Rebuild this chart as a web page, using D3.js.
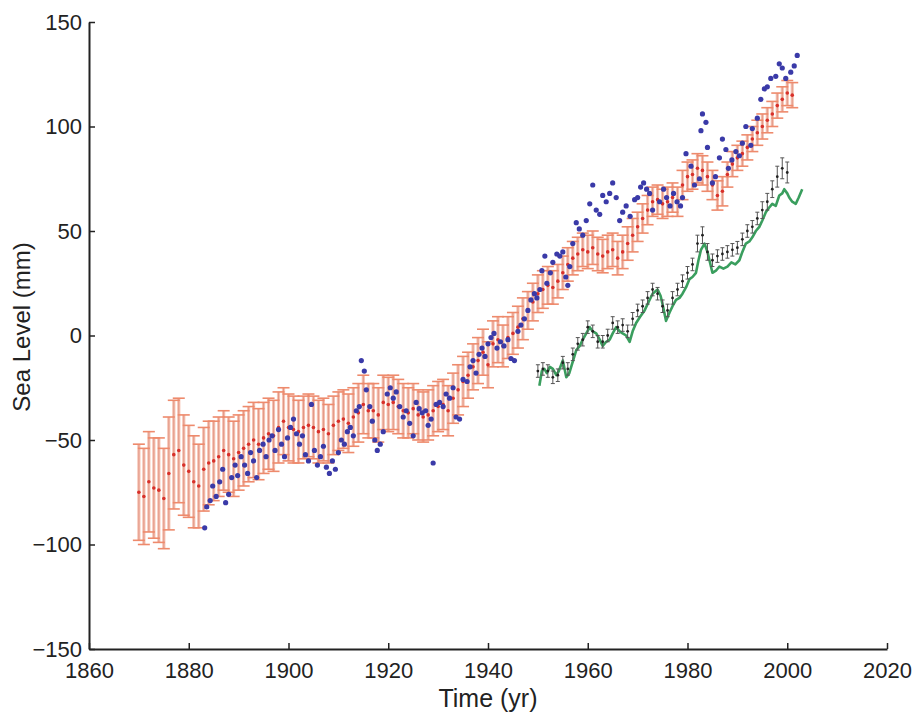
<!DOCTYPE html>
<html>
<head>
<meta charset="utf-8">
<script src="https://cdn.jsdelivr.net/npm/d3@7"></script>
<style>
  body { margin: 0; background: #fff; }
  text { font-family: "Liberation Sans", Arial, Helvetica, sans-serif; fill: #222; }
</style>
</head>
<body>
<div id="chart"></div>
<script>
var width = 912
var height = 715

// reconstructed sea level (red), annual, with error
var redStart = 1870
var redVals = [
  -75, -77, -70, -73, -74, -78, -66, -57, -55, -62,
  -65, -70, -72, -64, -61, -60, -58, -55, -57, -59,
  -56, -54, -52, -50, -52, -49, -47, -48, -44, -41,
  -44, -45, -46, -44, -43, -44, -46, -45, -47, -43,
  -41, -40, -42, -39, -37, -33, -36, -36, -38, -32,
  -33, -32, -34, -36, -37, -35, -38, -39, -38, -36,
  -34, -33, -36, -30, -26, -22, -19, -15, -12, -8,
  -14, -4, -2, -5, -1, 1, 4, 8, 12, 16,
  20, 22, 24, 23, 26, 30, 34, 37, 39, 41,
  40, 42, 39, 38, 40, 41, 37, 40, 44, 48,
  52, 56, 60, 64, 65, 63, 64, 66, 64, 72,
  76, 77, 80, 79, 76, 72, 67, 69, 77, 82,
  85, 87, 90, 94, 97, 100, 103, 106, 110, 113,
  116, 115
]
var redErr = [
  23, 23, 24, 24, 25, 24, 27, 26, 25, 24,
  22, 22, 20, 20, 20, 19, 19, 19, 18, 18,
  18, 18, 18, 18, 17, 17, 17, 17, 17, 16,
  16, 16, 15, 15, 15, 15, 15, 15, 14, 14,
  14, 14, 14, 14, 14, 14, 13, 13, 13, 13,
  13, 13, 13, 13, 12, 12, 12, 12, 12, 12,
  12, 12, 12, 12, 12, 12, 11, 11, 11, 11,
  11, 11, 11, 10, 10, 10, 10, 10, 9, 9,
  9, 9, 9, 8, 8, 8, 8, 8, 8, 8,
  8, 8, 8, 8, 8, 8, 8, 8, 8, 8,
  7, 7, 7, 7, 7, 7, 7, 7, 7, 7,
  7, 7, 7, 7, 7, 7, 7, 7, 6, 6,
  6, 6, 6, 6, 6, 6, 6, 6, 6, 6,
  6, 6
]

// tide gauge points (blue)
var blueYears = [
  1883.2, 1883.6, 1884.3, 1884.8, 1885.5, 1886.2, 1886.8, 1887.4, 1888.0, 1888.6,
  1889.3, 1889.8, 1890.5, 1891.2, 1891.8, 1892.4, 1893.0, 1893.6, 1894.2, 1894.9,
  1895.5, 1896.1, 1896.7, 1897.3, 1898.0, 1898.6, 1899.2, 1899.8, 1900.4, 1901.0,
  1901.6, 1902.2, 1902.8, 1903.4, 1904.0, 1904.6, 1905.2, 1905.8, 1906.4, 1907.0,
  1907.6, 1908.2, 1908.8, 1909.4, 1910.0, 1910.6, 1911.2, 1911.8, 1912.4, 1913.0,
  1913.6, 1914.2, 1914.6, 1915.2, 1915.6, 1916.3, 1916.8, 1917.3, 1917.8, 1918.4,
  1919.0, 1919.8, 1920.4, 1921.0, 1921.6, 1922.3, 1923.0, 1923.6, 1924.3, 1925.0,
  1925.6, 1926.2, 1926.8, 1927.5, 1928.0, 1928.6, 1929.0, 1929.6, 1930.3, 1931.0,
  1931.6, 1932.3, 1933.0, 1933.6, 1934.3, 1935.0, 1935.8, 1936.4, 1937.0, 1937.6,
  1938.2, 1938.8, 1939.4, 1940.0, 1940.6, 1941.2, 1941.8, 1942.5, 1943.2, 1944.0,
  1944.6, 1945.3, 1946.0, 1946.6, 1947.3, 1948.0, 1948.6, 1949.3, 1949.8, 1950.4,
  1950.8, 1951.4, 1951.8, 1952.5, 1953.0, 1953.8, 1954.4, 1955.0, 1955.6, 1956.0,
  1956.4, 1957.0, 1957.7, 1958.3, 1959.0, 1959.7, 1960.4, 1961.0, 1961.7, 1962.4,
  1963.0, 1963.7, 1964.4, 1965.0, 1965.7, 1966.4, 1967.0, 1967.7, 1968.5, 1969.4,
  1970.0, 1970.6, 1971.2, 1971.8, 1972.4, 1973.0, 1974.4, 1975.2, 1975.8, 1976.5,
  1977.2, 1977.9, 1978.6, 1979.0, 1979.7, 1980.7, 1981.4, 1982.4, 1982.7, 1983.0,
  1983.7, 1984.0, 1985.0, 1985.6, 1986.4, 1987.0, 1987.7, 1988.2, 1988.9, 1989.7,
  1990.4, 1991.0, 1991.7, 1992.7, 1993.0, 1994.0, 1994.7, 1995.4, 1996.0, 1996.7,
  1997.7, 1998.4, 1999.0, 1999.7, 2000.7, 2001.4, 2002.0
]
var blueVals = [
  -92, -82, -79, -72, -77, -70, -64, -80, -76, -68,
  -62, -67, -58, -62, -66, -56, -60, -68, -55, -52,
  -58, -50, -48, -55, -45, -52, -58, -49, -44, -40,
  -47, -52, -48, -57, -60, -33, -55, -62, -58, -53,
  -63, -66, -60, -64, -56, -50, -52, -46, -44, -48,
  -36, -34, -12, -17, -26, -34, -41, -50, -55, -52,
  -46, -28, -25, -30, -27, -34, -39, -36, -42, -48,
  -32, -35, -37, -36, -43, -40, -61, -33, -32, -34,
  -28, -30, -25, -39, -40, -21, -22, -15, -12, -18,
  -9, -6, -10, -4, -1, 1, -6, -3, -5, -2,
  -11, -12, 2, 5, 8, 12, 17, 20, 18, 22,
  31, 38, 25, 30, 35, 39, 38, 40, 28, 24,
  33, 44, 54, 51, 48, 55, 63, 72, 60, 58,
  67, 64, 68, 73, 66, 55, 59, 62, 57, 65,
  66, 71, 73, 70, 68, 60, 64, 70, 66, 62,
  68, 64, 62, 66, 87, 81, 72, 75, 98, 106,
  102, 90, 73, 76, 85, 94, 89, 80, 84, 88,
  86, 92, 100, 91, 99, 104, 113, 118, 119, 123,
  124, 130, 128, 123, 126, 129, 134
]

// altimetry-calibrated series (black), annual with small error
var blackStart = 1950
var blackVals = [
  -17, -16, -17, -20, -19, -13, -16, -9, -4, -2,
  4, 2, -3, -3, 0, 6, 4, 5, 2, 8,
  12, 14, 18, 22, 20, 14, 12, 18, 22, 26,
  30, 34, 44, 48, 40, 36, 38, 39, 40, 41,
  42, 46, 50, 52, 56, 60, 64, 70, 76, 80,
  78
]
var blackErr = [
  3, 3, 3, 3, 3, 3, 3, 3, 3, 3,
  3, 3, 3, 3, 3, 3, 3, 3, 3, 3,
  3, 3, 3, 3, 3, 3, 3, 3, 3, 3,
  3, 3, 4, 4, 4, 3, 3, 3, 3, 3,
  3, 3, 3, 3, 3, 4, 4, 4, 5, 5,
  5
]

// green curve
var greenYears = [
  1950.3, 1950.8, 1951.3, 1951.8, 1952.4, 1953.0, 1953.7, 1954.2, 1955.0, 1955.7,
  1956.3, 1956.8, 1957.7, 1958.4, 1959.0, 1959.7, 1960.4, 1961.0, 1961.7, 1962.4,
  1963.0, 1963.7, 1964.4, 1965.0, 1965.7, 1966.4, 1967.0, 1967.7, 1968.4, 1969.0,
  1969.7, 1970.5, 1971.4, 1972.2, 1973.0, 1974.0, 1974.6, 1975.0, 1975.7, 1976.4,
  1977.0, 1977.7, 1978.4, 1979.0, 1979.7, 1980.4, 1981.0, 1981.7, 1982.2, 1982.7,
  1983.4, 1984.0, 1984.4, 1985.0, 1985.7, 1986.4, 1987.2, 1988.0, 1988.8, 1989.6,
  1990.4, 1991.0, 1991.7, 1992.4, 1993.0, 1993.7, 1994.4, 1995.0, 1995.7, 1996.3,
  1997.0, 1997.7, 1998.4, 1999.0, 1999.4, 2000.0, 2000.4, 2001.0, 2001.7, 2002.3,
  2003.0
]
var greenVals = [
  -24, -17, -16, -18, -15, -16, -19, -17, -12, -20,
  -18, -14, -7, -5, -2, 1, 4, 2, 1, -2,
  -5, -3, -2, 1, 4, 2, 1, 0, -3, 2,
  6, 9, 12, 16, 20, 22, 19, 15, 7, 11,
  14, 17, 18, 20, 23, 27, 28, 30, 36, 41,
  44, 40, 36, 30, 31, 33, 32, 33, 35, 34,
  36, 40, 44, 45, 47, 50, 52, 55, 59, 61,
  63, 62, 67, 68, 70, 68, 66, 64, 63, 66,
  70
]

var xTicks = [1860, 1880, 1900, 1920, 1940, 1960, 1980, 2000, 2020]
var yTicks = [-150, -100, -50, 0, 50, 100, 150]

var svg = d3.select("#chart")
  .append("svg")
  .attr("width", width)
  .attr("height", height)

var x = d3.scaleLinear().domain([1860, 2020]).range([89, 887])
var y = d3.scaleLinear().domain([-150, 150]).range([649, 22])

var red = redVals.map(function (v, i) { return { yr: redStart + i, v: v, e: redErr[i] } })
var blue = blueVals.map(function (v, i) { return { yr: blueYears[i], v: v } })
var black = blackVals.map(function (v, i) { return { yr: blackStart + i, v: v, e: blackErr[i] } })
var green = greenVals.map(function (v, i) { return { yr: greenYears[i], v: v } })

// red error bars
var rb = svg.append("g").attr("class", "red-bars")
rb.selectAll("line.band")
  .data(red)
  .enter().append("line")
  .attr("class", "band")
  .attr("x1", function (d) { return x(d.yr) })
  .attr("x2", function (d) { return x(d.yr) })
  .attr("y1", function (d) { return y(d.v + d.e) })
  .attr("y2", function (d) { return y(d.v - d.e) })
  .attr("stroke", "#f6c2b2")
  .attr("stroke-width", 3.2)
rb.selectAll("line.stem")
  .data(red)
  .enter().append("line")
  .attr("class", "stem")
  .attr("x1", function (d) { return x(d.yr) })
  .attr("x2", function (d) { return x(d.yr) })
  .attr("y1", function (d) { return y(d.v + d.e) })
  .attr("y2", function (d) { return y(d.v - d.e) })
  .attr("stroke", "#dc8a78")
  .attr("stroke-width", 0.8)
;["top", "bot"].forEach(function (k) {
  rb.selectAll("line.cap-" + k)
    .data(red)
    .enter().append("line")
    .attr("class", "cap-" + k)
    .attr("x1", function (d) { return x(d.yr) - 6 })
    .attr("x2", function (d) { return x(d.yr) + 6 })
    .attr("y1", function (d) { return y(k == "top" ? d.v + d.e : d.v - d.e) })
    .attr("y2", function (d) { return y(k == "top" ? d.v + d.e : d.v - d.e) })
    .attr("stroke", "#ee8a6c")
    .attr("stroke-width", 1.6)
})
rb.selectAll("circle")
  .data(red)
  .enter().append("circle")
  .attr("cx", function (d) { return x(d.yr) })
  .attr("cy", function (d) { return y(d.v) })
  .attr("r", 1.8)
  .attr("fill", "#d8302a")

// blue dots
svg.append("g").selectAll("circle")
  .data(blue)
  .enter().append("circle")
  .attr("cx", function (d) { return x(d.yr) })
  .attr("cy", function (d) { return y(d.v) })
  .attr("r", 2.6)
  .attr("fill", "#3a3aa8")

// green curve
svg.append("path")
  .datum(green)
  .attr("fill", "none")
  .attr("stroke", "#3a9e5e")
  .attr("stroke-width", 2.6)
  .attr("stroke-linejoin", "round")
  .attr("d", d3.line()
    .x(function (d) { return x(d.yr) })
    .y(function (d) { return y(d.v) }))

// black error bars
var kb = svg.append("g").attr("class", "black-bars")
kb.selectAll("line.stem")
  .data(black)
  .enter().append("line")
  .attr("class", "stem")
  .attr("x1", function (d) { return x(d.yr) })
  .attr("x2", function (d) { return x(d.yr) })
  .attr("y1", function (d) { return y(d.v + d.e) })
  .attr("y2", function (d) { return y(d.v - d.e) })
  .attr("stroke", "#555")
  .attr("stroke-width", 1)
;["top", "bot"].forEach(function (k) {
  kb.selectAll("line.cap-" + k)
    .data(black)
    .enter().append("line")
    .attr("class", "cap-" + k)
    .attr("x1", function (d) { return x(d.yr) - 2 })
    .attr("x2", function (d) { return x(d.yr) + 2 })
    .attr("y1", function (d) { return y(k == "top" ? d.v + d.e : d.v - d.e) })
    .attr("y2", function (d) { return y(k == "top" ? d.v + d.e : d.v - d.e) })
    .attr("stroke", "#555")
    .attr("stroke-width", 1)
})
kb.selectAll("circle")
  .data(black)
  .enter().append("circle")
  .attr("cx", function (d) { return x(d.yr) })
  .attr("cy", function (d) { return y(d.v) })
  .attr("r", 1.4)
  .attr("fill", "#222")

// axes, ticks pointing inward
var fmt = function (d) { return d < 0 ? "\u2212" + Math.abs(d) : "" + d }

var xAxis = svg.append("g")
  .attr("transform", "translate(0," + 649 + ")")
  .call(d3.axisBottom(x).tickValues(xTicks).tickFormat(d3.format("d"))
    .tickSizeInner(-6).tickSizeOuter(0).tickPadding(13))
var yAxis = svg.append("g")
  .attr("transform", "translate(" + 89 + ",0)")
  .call(d3.axisLeft(y).tickValues(yTicks).tickFormat(fmt)
    .tickSizeInner(-6).tickSizeOuter(0).tickPadding(7))

;[xAxis, yAxis].forEach(function (g) {
  g.select(".domain").attr("stroke", "#222").attr("stroke-width", 2)
  g.selectAll(".tick line").attr("stroke", "#222").attr("stroke-width", 1.5)
  g.selectAll(".tick text")
    .attr("fill", "#222")
    .style("font-size", "22px")
    .style("font-family", "'Liberation Sans', Arial, sans-serif")
})

svg.append("text")
  .attr("x", 488)
  .attr("y", 707)
  .attr("text-anchor", "middle")
  .style("font-size", "25px")
  .text("Time (yr)")

svg.append("text")
  .attr("transform", "translate(30,327) rotate(-90)")
  .attr("text-anchor", "middle")
  .style("font-size", "24px")
  .text("Sea Level (mm)")
</script>
</body>
</html>
